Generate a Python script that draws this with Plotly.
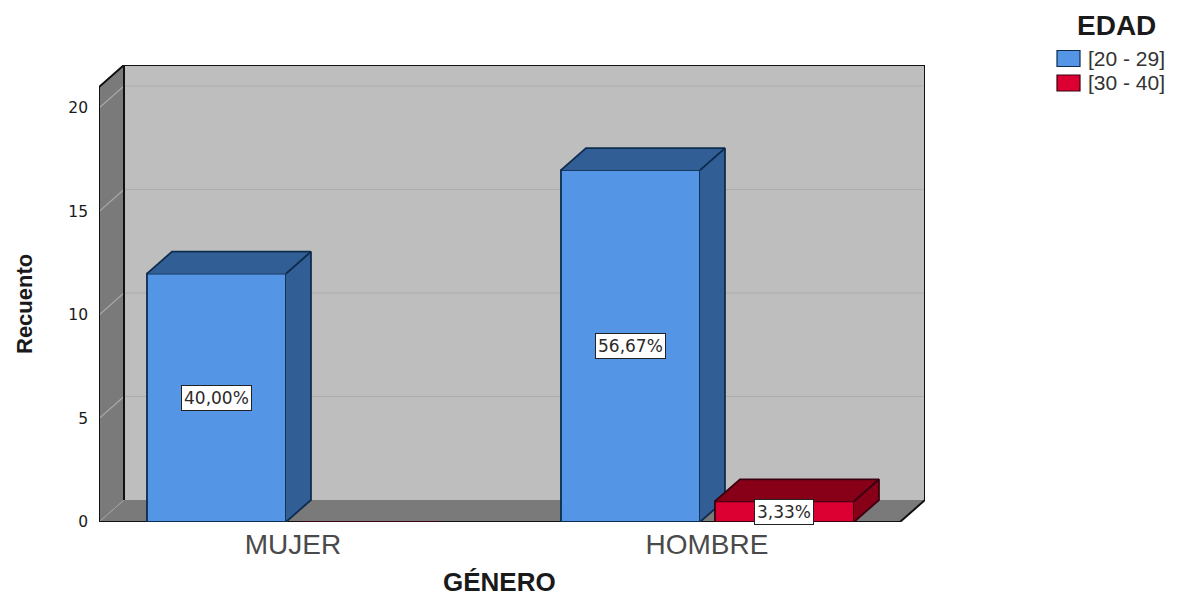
import plotly.graph_objects as go

# ---- data ----
categories = ["MUJER", "HOMBRE"]
series_names = ["[20 - 29]", "[30 - 40]"]
counts_20_29 = [12, 17]
counts_30_40 = [0, 1]
labels_20_29 = ["40,00%", "56,67%"]
labels_30_40 = ["", "3,33%"]
y_ticks = [0, 5, 10, 15, 20]
x_title = "GÉNERO"
y_title = "Recuento"
legend_title = "EDAD"

# ---- style / geometry ----
W, H = 1179, 598
L, R, T, B = 99, 925, 65, 522     # whole 3D box, in page pixels
X_RANGE = [-0.4686, 1.5266]
Y_RANGE = [0, 22.08]
DX, DY = 0.0604, 1.063            # depth offset in axis units
FRONT_X1 = X_RANGE[1] - DX
FRONT_Y1 = Y_RANGE[1] - DY
BAR_W = 0.3357
OFF = [-0.3527, 0.0193]
BLUE, BLUE_D, BLUE_L = "#5595E6", "#325E96", "#0E2C4E"
RED, RED_D, RED_L = "#DC0032", "#870018", "#3A0010"
WALL, SIDE, GRID = "#BEBEBE", "#7A7A7A", "#ADADAD"
INK = "#1A1A1A"
FONT = "Liberation Sans"

pos = list(range(len(categories)))
x0, x1 = X_RANGE[0], FRONT_X1
ytop = FRONT_Y1


def poly(xs, ys, fill, line=None, xa="x", ya="y", lw=1.8):
    return go.Scatter(
        x=xs, y=ys, xaxis=xa, yaxis=ya, mode="lines", fill="toself" if fill else None,
        fillcolor=fill, line=dict(color=line or "rgba(0,0,0,0)", width=lw if line else 0),
        hoverinfo="skip", showlegend=False,
    )


def line(xs, ys, color, width):
    return go.Scatter(x=xs, y=ys, mode="lines", line=dict(color=color, width=width),
                      hoverinfo="skip", showlegend=False, cliponaxis=False)


fig = go.Figure()

# walls and floor
fig.add_trace(poly([x0 + DX, x1 + DX, x1 + DX, x0 + DX], [DY, DY, ytop + DY, ytop + DY], WALL))
fig.add_trace(poly([x0, x0 + DX, x0 + DX, x0], [0, DY, ytop + DY, ytop], SIDE))
fig.add_trace(poly([x0, x1, x1 + DX, x0 + DX], [0, 0, DY, DY], SIDE))
fig.add_trace(line([x0, x0 + DX], [0, DY], "#A0A0A0", 1))
for v in y_ticks[1:]:
    fig.add_trace(line([x0, x0 + DX], [v, v + DY], "#A8A8A8", 1.2))
    fig.add_trace(line([x0 + DX, x1 + DX], [v + DY, v + DY], GRID, 1))
fig.add_trace(line([x0 + DX, x0 + DX, x1 + DX, x1 + DX, x1, x0, x0, x0 + DX],
                   [DY, ytop + DY, ytop + DY, DY, 0, 0, ytop, ytop + DY], "#111111", 2))


def add_series(values, name, idx, front, dark, edge, xa, ya):
    fig.add_trace(go.Bar(
        x=pos, y=values, name=name, width=BAR_W, offset=OFF[idx], xaxis=xa, yaxis=ya,
        marker=dict(color=front, line=dict(color=edge, width=1.8)), showlegend=False,
    ))
    for p, v in zip(pos, values):
        if v <= 0:
            continue
        l, r = p + OFF[idx], p + OFF[idx] + BAR_W
        fig.add_trace(poly([r, r + DX, r + DX, r], [0, DY, v + DY, v], dark, edge, xa, ya))
        fig.add_trace(poly([l, l + DX, r + DX, r], [v, v + DY, v + DY, v], dark, edge, xa, ya))


add_series(counts_20_29, series_names[0], 0, BLUE, BLUE_D, BLUE_L, "x2", "y2")
add_series(counts_30_40, series_names[1], 1, RED, RED_D, RED_L, "x3", "y3")

# percentage labels
for idx, (vals, labs) in enumerate([(counts_20_29, labels_20_29), (counts_30_40, labels_30_40)]):
    for p, v, t in zip(pos, vals, labs):
        if t:
            fig.add_annotation(
                x=p + OFF[idx] + BAR_W / 2, y=v / 2, xref="x", yref="y", text=t, showarrow=False,
                font=dict(family="DejaVu Sans", size=17, color="#2A2A2A"),
                bgcolor="white", bordercolor="#222222", borderwidth=1, borderpad=2,
            )

pw, ph = R - L, B - T
px = lambda v: (v - L) / pw
py = lambda v: (B - v) / ph

common = dict(xref="paper", yref="paper", showarrow=False, yanchor="middle")

# axis titles, centred on the front plane
fig.add_annotation(x=px(499.5), y=py(582), text=f"<b>{x_title}</b>", xanchor="center",
                   font=dict(family=FONT, size=26, color=INK), **common)
fig.add_annotation(x=px(24), y=py(304), text=f"<b>{y_title}</b>", xanchor="center", textangle=-90,
                   font=dict(family=FONT, size=22, color=INK), **common)

# legend, built to the reference's proportions
fig.add_annotation(x=px(1116), y=py(26), text=f"<b>{legend_title}</b>", xanchor="center",
                   font=dict(family=FONT, size=28, color=INK), **common)
for name, col, edge, yc in zip(series_names, [BLUE, RED], [BLUE_L, RED_L], [58.5, 83]):
    fig.add_shape(type="rect", xref="paper", yref="paper", x0=px(1057), x1=px(1080),
                  y0=py(yc - 8), y1=py(yc + 8), fillcolor=col, line=dict(color=edge, width=1.2))
    fig.add_annotation(x=px(1086), y=py(yc), text=name, xanchor="left",
                       font=dict(family=FONT, size=21, color="#333333"), **common)

hidden = dict(visible=False, showgrid=False, zeroline=False)
fig.update_layout(
    width=W, height=H, paper_bgcolor="white", plot_bgcolor="rgba(0,0,0,0)",
    margin=dict(l=L, r=W - R, t=T, b=H - B, autoexpand=False),
    showlegend=False, barmode="overlay",
    xaxis=dict(range=X_RANGE, tickmode="array", tickvals=pos, ticktext=categories, showgrid=False,
               zeroline=False, showline=False, ticks="", ticklabelstandoff=3,
               tickfont=dict(family=FONT, size=28, color="#4A4A4A")),
    yaxis=dict(range=Y_RANGE, tickmode="array", tickvals=y_ticks, showgrid=False, zeroline=False,
               showline=False, ticks="", ticklabelstandoff=10,
               tickfont=dict(family="DejaVu Sans", size=15.5, color=INK)),
    xaxis2=dict(overlaying="x", range=X_RANGE, **hidden),
    yaxis2=dict(overlaying="y", range=Y_RANGE, **hidden),
    xaxis3=dict(overlaying="x", range=X_RANGE, **hidden),
    yaxis3=dict(overlaying="y", range=Y_RANGE, **hidden),
)

fig.write_html("out.html", config={"displayModeBar": False},
               post_script="document.body.style.margin='0';")
